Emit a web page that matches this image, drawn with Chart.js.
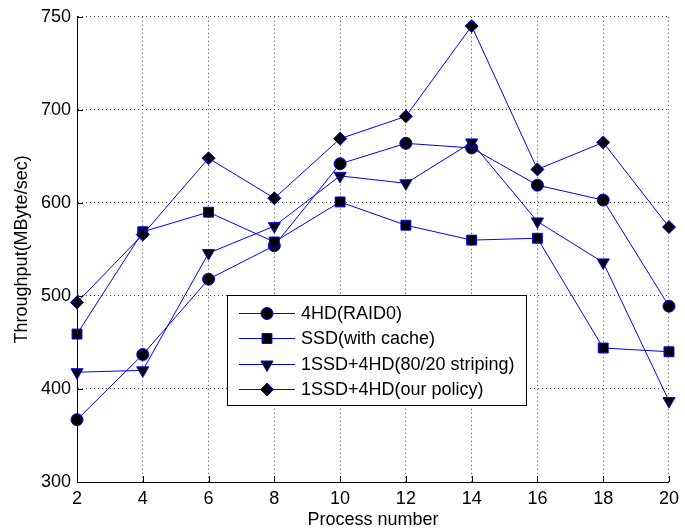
<!DOCTYPE html>
<html>
<head>
<meta charset="utf-8">
<script src="https://cdn.jsdelivr.net/npm/chart.js@4/dist/chart.umd.min.js"></script>
<style>
html,body{margin:0;padding:0;background:#fff;}
#wrap{position:relative;width:685px;height:531px;}
</style>
</head>
<body>
<div id="wrap"><canvas id="c" width="685" height="531"></canvas></div>
<script>
// ---- data ----
const processes = [2, 4, 6, 8, 10, 12, 14, 16, 18, 20];
const raid0     = [367, 437, 518, 554, 642, 664, 659, 619, 603, 489];
const ssdCache  = [459, 569, 590, 558, 601, 576, 560, 562, 444, 440];
const striping  = [418, 420, 546, 575, 629, 621, 665, 580, 536, 387];
const ourPolicy = [493, 566, 648, 605, 669, 693, 790, 636, 665, 574];
const seriesNames = ['4HD(RAID0)', 'SSD(with cache)', '1SSD+4HD(80/20 striping)', '1SSD+4HD(our policy)'];
const yTickLabels = ['300', '400', '500', '600', '700', '750'];
const xTitle = 'Process number';
const yTitle = 'Throughput(MByte/sec)';

const FONT = "'Liberation Sans', Arial, Helvetica, sans-serif";
const BLUE = '#0000ff';

const styles = [
  {pointStyle: 'circle', pointRadius: 6, rotation: 0},
  {pointStyle: 'rect', pointRadius: 7, rotation: 0},
  {pointStyle: 'triangle', pointRadius: 7, rotation: 180},
  {pointStyle: 'rectRot', pointRadius: 6.5, rotation: 0}
];
const allSeries = [raid0, ssdCache, striping, ourPolicy];

const datasets = allSeries.map((vals, i) => ({
  label: seriesNames[i],
  data: processes.map((p, j) => ({x: p, y: vals[j]})),
  borderColor: BLUE,
  borderWidth: 1,
  backgroundColor: '#000',
  pointBackgroundColor: '#000',
  pointBorderColor: BLUE,
  pointBorderWidth: 1,
  pointStyle: styles[i].pointStyle,
  pointRadius: styles[i].pointRadius,
  pointRotation: styles[i].rotation,
  pointHoverRadius: styles[i].pointRadius,
  tension: 0,
  clip: false,
  order: allSeries.length - i
}));

// inward tick marks on left and bottom axes
const inwardTicks = {
  id: 'inwardTicks',
  afterDatasetsDraw(chart) {
    const ctx = chart.ctx, a = chart.chartArea;
    const xs = chart.scales.x, ys = chart.scales.y;
    ctx.save();
    ctx.strokeStyle = '#000';
    ctx.lineWidth = 1;
    ctx.setLineDash([]);
    ctx.beginPath();
    xs.ticks.forEach(t => {
      const px = Math.round(xs.getPixelForValue(t.value)) + 0.5;
      ctx.moveTo(px, a.bottom);
      ctx.lineTo(px, a.bottom - 6);
    });
    ys.ticks.forEach(t => {
      const py = Math.round(ys.getPixelForValue(t.value)) + 0.5;
      ctx.moveTo(a.left, py);
      ctx.lineTo(a.left + 6, py);
    });
    ctx.stroke();
    ctx.restore();
  }
};

// legend box inside the plot
const boxLegend = {
  id: 'boxLegend',
  afterDraw(chart) {
    const ctx = chart.ctx;
    const bx = 227.5, by = 295.5, bw = 299, bh = 110;
    ctx.save();
    ctx.setLineDash([]);
    ctx.fillStyle = '#fff';
    ctx.fillRect(bx, by, bw, bh);
    ctx.strokeStyle = '#000';
    ctx.lineWidth = 1;
    ctx.strokeRect(bx, by, bw, bh);
    ctx.font = '18px ' + FONT;
    ctx.textBaseline = 'middle';
    ctx.textAlign = 'left';
    chart.data.datasets.forEach((ds, i) => {
      const y = Math.round(313 + i * 25.3) + 0.5;
      ctx.strokeStyle = BLUE;
      ctx.lineWidth = 1;
      ctx.beginPath();
      ctx.moveTo(239, y);
      ctx.lineTo(295, y);
      ctx.stroke();
      ctx.fillStyle = '#000';
      ctx.strokeStyle = BLUE;
      Chart.helpers.drawPoint(ctx, {
        pointStyle: ds.pointStyle,
        rotation: ds.pointRotation,
        radius: ds.pointRadius,
        borderWidth: 1
      }, 267, y);
      ctx.fillStyle = '#000';
      ctx.fillText(ds.label, 301, y + 1);
    });
    ctx.restore();
  }
};

new Chart(document.getElementById('c'), {
  type: 'line',
  data: {datasets},
  plugins: [inwardTicks, boxLegend],
  options: {
    responsive: false,
    animation: false,
    devicePixelRatio: 1,
    layout: {padding: {left: 0, top: 15, right: 13, bottom: 0}},
    plugins: {legend: {display: false}, tooltip: {enabled: false}},
    scales: {
      x: {
        type: 'linear',
        min: 2, max: 20,
        ticks: {stepSize: 2, color: '#000', font: {family: FONT, size: 18}, padding: 6},
        grid: {color: '#444', drawTicks: false, lineWidth: 1},
        border: {display: true, color: '#000', width: 1, dash: [1, 3]},
        title: {display: true, text: xTitle, color: '#000', font: {family: FONT, size: 18}, padding: {top: 0, bottom: 0}},
        afterFit(s) { s.height = 49; }
      },
      y: {
        type: 'linear',
        min: 300, max: 800,
        ticks: {
          stepSize: 100, color: '#000', font: {family: FONT, size: 18}, padding: 6,
          callback: (v, i) => yTickLabels[i]
        },
        grid: {color: '#444', drawTicks: false, lineWidth: 1},
        border: {display: true, color: '#000', width: 1, dash: [1, 3]},
        title: {display: true, text: yTitle, color: '#000', font: {family: FONT, size: 18}, padding: {top: 11, bottom: 11}},
        afterFit(s) { s.width = 77; }
      }
    }
  }
});
</script>
</body>
</html>
